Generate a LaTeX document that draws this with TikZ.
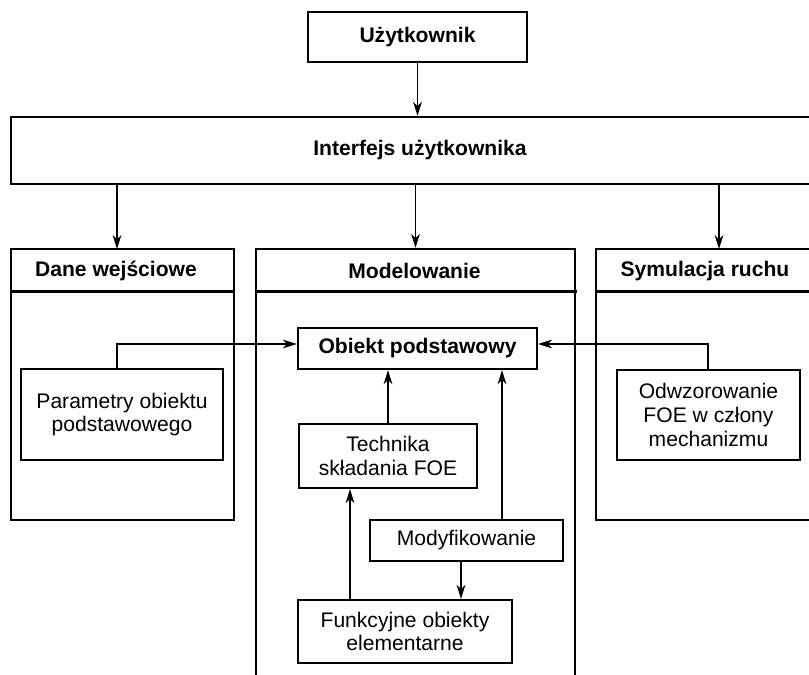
\documentclass[tikz,border=0pt]{standalone}
\usepackage{fontspec}
\setmainfont{Liberation Sans}
\usetikzlibrary{arrows.meta}

\begin{document}
\begin{tikzpicture}[x=0.02cm,y=-0.02cm,>={Stealth[length=8pt,width=5pt,inset=2.5pt]},
        font=\fontsize{12}{13.5}\selectfont,
        box/.style={draw=black,line width=1.3pt,align=center,inner sep=0pt},
        head/.style={font=\fontsize{12}{13.5}\selectfont\bfseries},
        col/.style={draw=black,line width=1.5pt,inner sep=0pt},
        link/.style={->,line width=0.6pt}]
                \useasboundingbox (0,0) rectangle (809,675);
                \clip (0,0) rectangle (809,675);
                % top
                \node[box,head,minimum width=4.38cm,minimum height=1cm](user)at(417.5, 37){Użytkownik};
                \node[box,head,minimum width=16.36cm,minimum height=1.34cm](ui)at(420, 150.5){Interfejs użytkownika};
                % columns
                \node[col,minimum width=4.46cm,minimum height=5.42cm](dane)at(122.5, 384.5){};
                \node[col,minimum width=6.38cm,minimum height=9.02cm](model)at(415.5, 474.5){};
                \node[col,minimum width=4.92cm,minimum height=5.42cm](sym)at(719, 384.5){};
                \draw[col](dane.north west)++(0, 44)--++(223, 0);
                \draw[col](model.north west)++(0, 44)--++(322, 0);
                \draw[col](sym.north west)++(0, 44)--++(246, 0);
                \node[head](daneT)at(116, 271){Dane wejściowe};
                \node[head](modelT)at(414.5, 271){Modelowanie};
                \node[head](symT)at(705, 271){Symulacja ruchu};
                % inner boxes
                \node[box,head,minimum width=4.78cm,minimum height=0.82cm](obiekt)at(417.5, 348.5){Obiekt podstawowy};
                \node[box,minimum width=4.04cm,minimum height=1.82cm](param)at(122, 414.5){Parametry obiektu\\podstawowego};
                \node[box,minimum width=3.66cm,minimum height=1.8cm](odwz)at(708.5, 415){Odwzorowanie\\FOE w człony\\mechanizmu};
                \node[box,minimum width=3.56cm,minimum height=1.28cm](tech)at(388, 456){Technika\\składania FOE};
                \node[box,minimum width=3.86cm,minimum height=0.82cm](modyf)at(466.5, 540.5){Modyfikowanie};
                \node[box,minimum width=4.28cm,minimum height=1.26cm](funk)at(405, 631.5){Funkcyjne obiekty\\elementarne};
                % connectors
                \coordinate(daneIn)at(117, 249);
                \coordinate(symIn)at(719, 249);
                \coordinate(pin)at(117, 344);
                \coordinate(oin)at(708, 344);
                \coordinate(mup)at(502, 0);
                \coordinate(mdn)at(461, 0);
                \coordinate(fup)at(350, 0);
                \draw[link](user.south)--(user.south |- ui.north);
                \draw[link](ui.south -| daneIn)--(daneIn);
                \draw[link](ui.south -| model.north)--(model.north);
                \draw[link](ui.south -| symIn)--(symIn);
                \draw[link](param.north -| pin)|-(obiekt.west |- pin);
                \draw[link](odwz.north -| oin)|-(obiekt.east |- oin);
                \draw[link](tech.north)--(tech.north |- obiekt.south);
                \draw[link](modyf.north -| mup)--(obiekt.south -| mup);
                \draw[link](modyf.south -| mdn)--(funk.north -| mdn);
                \draw[link](funk.north -| fup)--(tech.south -| fup);
            \end{tikzpicture}
\end{document}
